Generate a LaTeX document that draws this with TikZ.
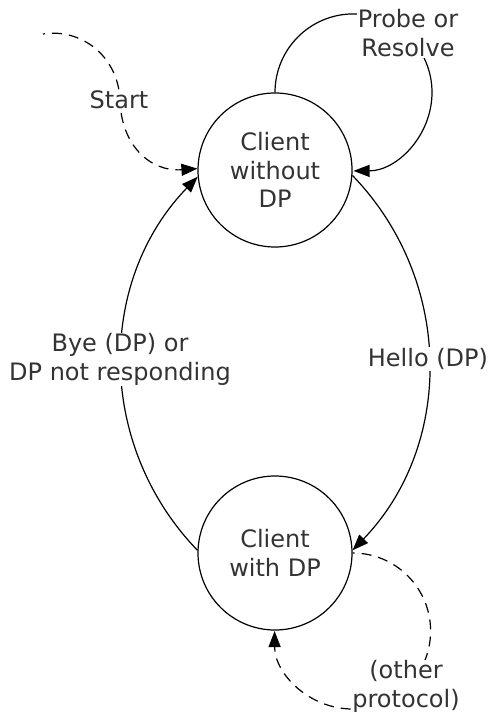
\documentclass[tikz,border=0pt]{standalone}
\usepackage{fontspec}
\setmainfont{DejaVu Sans}
\usetikzlibrary{arrows.meta}
\definecolor{txt}{gray}{0.2}
\begin{document}
\begin{tikzpicture}[x=1pt,y=-1pt,
  state/.style={circle,draw,line width=1.2pt,minimum size=154pt,inner sep=0pt,align=center,font=\fontsize{24}{28.5}\selectfont,text=txt},
  lbl/.style={fill=white,inner sep=1pt,align=center,font=\fontsize{24}{28.5}\selectfont,text=txt},
  tr/.style={line width=1.2pt,-{Triangle[length=16pt,width=12pt]}},
  dsh/.style={dash pattern=on 10pt off 7pt,dash phase=8pt}]
\useasboundingbox (0,0) rectangle (490,714);
\node[state] (top) at (275,170) {Client\\without\\DP};
\node[state] (bot) at (275,553) {Client\\with DP};
\coordinate (s0) at (43,34);
% start
\draw[tr,dsh] (s0) .. controls (80,28) and (118,55) .. (120,100) .. controls (121,145) and (150,172) .. (top.179);
% self loop
\draw[tr] (top.north) arc[start angle=180,end angle=450,radius=78.5];
% bye
\draw[tr] (bot.178) to[bend left=44] (top.185);
% hello
\draw[tr] (top.-4) to[bend left=44] (bot.2);
% other protocol
\draw[tr,dsh] (bot.east) arc[start angle=270,end angle=540,radius=78];
% labels
\node[lbl] (startlbl) at (119,100) {Start};
\node[lbl] (prlbl) at (408,33) {Probe or\\Resolve};
\node[lbl] (byelbl) at (120,359.5) {Bye (DP) or\\DP not responding};
\node[lbl] (hellolbl) at (428,359) {Hello (DP)};
\node[lbl] (otherlbl) at (406,686.5) {(other\\protocol)};
\end{tikzpicture}
\end{document}
